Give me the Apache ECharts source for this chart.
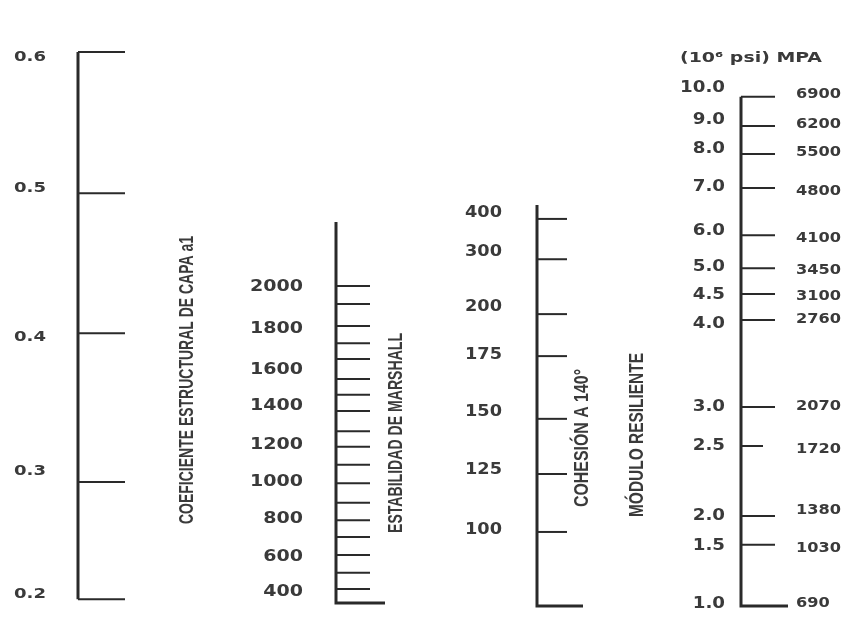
<!DOCTYPE html>
<html>
<head>
<meta charset="utf-8">
<script src="https://cdn.jsdelivr.net/npm/echarts@6/dist/echarts.min.js"></script>
<style>html,body{margin:0;padding:0;background:#fff}#c{width:860px;height:617px}</style>
</head>
<body>
<div id="c"></div>
<script>
// ---- DATA (heights along the nomograph: 0 = base line, 100 = top) ----
const coefLabels = ['0.6', '0.5', '0.4', '0.3', '0.2'];
const coefTickHeights = [99.1, 73.9, 48.9, 22.3, 1.4];
const coefLabelHeights = [98.2, 74.8, 48.2, 24.3, 2.3];
const coefExtent = [1.4, 99.1];

const marshallTickHeights = [57.3, 54.1, 50.2, 47.1, 44.3, 40.7, 37.9, 35.0, 31.4, 28.6, 25.4, 22.1, 18.6, 15.5, 12.5, 9.3, 6.1, 3.2];
const marshallLabels = ['2000', '1800', '1600', '1400', '1200', '1000', '800', '600', '400'];
const marshallLabelHeights = [57.1, 49.6, 42.3, 35.9, 28.9, 22.3, 15.7, 8.9, 2.7];
const marshallExtent = [0.7, 68.75];

const cohesionLabels = ['400', '300', '200', '175', '150', '125', '100'];
const cohesionTickHeights = [69.3, 62.1, 52.3, 44.8, 33.6, 23.75, 13.4];
const cohesionLabelHeights = [70.4, 63.4, 53.6, 45.0, 34.8, 24.5, 13.75];
const cohesionExtent = [0.2, 71.8];

const modulusPsiLabels = ['10.0', '9.0', '8.0', '7.0', '6.0', '5.0', '4.5', '4.0', '3.0', '2.5', '2.0', '1.5', '1.0'];
const modulusMPaLabels = ['6900', '6200', '5500', '4800', '4100', '3450', '3100', '2760', '2070', '1720', '1380', '1030', '690'];
const modulusTickHeights = [91.1, 85.9, 80.9, 74.8, 66.4, 60.5, 55.9, 51.25, 35.7, 28.75, 16.25, 11.1, 0.2];
const modulusPsiLabelHeights = [92.7, 87.0, 81.8, 75.0, 67.1, 60.7, 55.7, 50.5, 35.7, 28.75, 16.25, 10.9, 0.5];
const modulusMPaLabelHeights = [91.6, 86.1, 81.25, 74.3, 65.9, 60.2, 55.5, 51.4, 35.9, 28.2, 17.3, 10.5, 0.7];
const modulusExtent = [0.2, 91.1];

// ---- LAYOUT / STYLE ----
const LINE = '#2a2a2a';
const TEXT = '#3a3a3a';
const LABEL_FONT = '"DejaVu Sans", Verdana, sans-serif';
const TITLE_FONT = '"Liberation Sans", Arial, sans-serif';

const ctx = document.createElement('canvas').getContext('2d');
function measure(text, font) { ctx.font = font; return ctx.measureText(text).width; }

function fitScale(ref, size, weight, family, target) {
  return target / measure(ref, weight + ' ' + size + 'px ' + family);
}

const layout = {
  coef:     { x: 78,  tickLen: 47, base: 0 },
  marshall: { x: 336, tickLen: 34, base: 49 },
  cohesion: { x: 537, tickLen: 30, base: 46 },
  modulus:  { x: 741, tickLen: 34, base: 47, shortIndex: 9, shortLen: 22 }
};

const labelStyles = {
  coef:     { x: 14,  align: 'left',  size: 14, ref: '0.6',  width: 32 },
  marshall: { x: 303, align: 'right', size: 15, ref: '2000', width: 53 },
  cohesion: { x: 502, align: 'right', size: 15, ref: '400',  width: 37 },
  psi:      { x: 725, align: 'right', size: 15, ref: '10.0', width: 45 },
  mpa:      { x: 796, align: 'left',  size: 14, ref: '6900', width: 45 }
};
Object.values(labelStyles).forEach(s => { s.sx = fitScale(s.ref, s.size, 'bold', LABEL_FONT, s.width); });

function spineSeries(cfg, extent) {
  return {
    type: 'custom', silent: true, z: 3,
    data: [[cfg.x, extent[0], extent[1]]],
    encode: { x: 0, y: [1, 2] },
    renderItem: (params, api) => {
      const lo = api.coord([api.value(0), api.value(1)]);
      const hi = api.coord([api.value(0), api.value(2)]);
      const pts = cfg.base ? [[lo[0] + cfg.base, lo[1]], lo, hi] : [lo, hi];
      return { type: 'polyline', shape: { points: pts }, style: { stroke: LINE, lineWidth: 3, fill: null, lineJoin: 'miter' } };
    }
  };
}

function tickSeries(cfg, heights) {
  return {
    type: 'custom', silent: true, z: 2,
    data: heights.map(h => [cfg.x, h]),
    encode: { x: 0, y: 1 },
    renderItem: (params, api) => {
      const p = api.coord([api.value(0), api.value(1)]);
      const len = (cfg.shortIndex === params.dataIndex) ? cfg.shortLen : cfg.tickLen;
      return { type: 'line', shape: { x1: p[0], y1: p[1], x2: p[0] + len, y2: p[1] }, style: { stroke: LINE, lineWidth: 2 } };
    }
  };
}

function labelSeries(style, texts, heights) {
  return {
    type: 'custom', silent: true, z: 4,
    data: heights.map(h => [style.x, h]),
    encode: { x: 0, y: 1 },
    renderItem: (params, api) => {
      const p = api.coord([api.value(0), api.value(1)]);
      return {
        type: 'text', x: p[0], y: p[1], scaleX: style.sx, scaleY: 1,
        style: { text: texts[params.dataIndex], fontSize: style.size, fontWeight: 'bold', fontFamily: LABEL_FONT, fill: TEXT, align: style.align, verticalAlign: 'middle' }
      };
    }
  };
}

// vertical titles fitted to their measured length / thickness in the reference
const titles = [
  { text: 'COEFICIENTE ESTRUCTURAL DE CAPA a1', cx: 187, cy: 380, length: 288, cap: 15 },
  { text: 'ESTABILIDAD DE MARSHALL', cx: 396, cy: 433, length: 200, cap: 15 },
  { text: 'COHESIÓN A 140°', cx: 583, cy: 438, length: 138, cap: 14 },
  { text: 'MÓDULO RESILIENTE', cx: 638, cy: 435, length: 164, cap: 14 }
];
const TITLE_SIZE = 16;
const graphics = titles.map(t => {
  const w = measure(t.text, 'bold ' + TITLE_SIZE + 'px ' + TITLE_FONT);
  return {
    type: 'text', x: t.cx, y: t.cy, rotation: Math.PI / 2,
    scaleX: t.length / w, scaleY: t.cap / (0.716 * TITLE_SIZE),
    style: { text: t.text, fontSize: TITLE_SIZE, fontWeight: 'bold', fontFamily: TITLE_FONT, fill: TEXT, align: 'center', verticalAlign: 'middle' }
  };
});
const headerText = '(10⁶ psi) MPA';
const headerW = measure(headerText, 'bold 14px ' + LABEL_FONT);
graphics.push({
  type: 'text', x: 751, y: 58, scaleX: 142 / headerW,
  style: { text: headerText, fontSize: 14, fontWeight: 'bold', fontFamily: LABEL_FONT, fill: TEXT, align: 'center', verticalAlign: 'middle' }
});

const chart = echarts.init(document.getElementById('c'), null, { renderer: 'canvas' });
chart.setOption({
  backgroundColor: '#ffffff',
  animation: false,
  grid: { left: 0, right: 0, top: 47, bottom: 10 },
  xAxis: { type: 'value', min: 0, max: 860, show: false },
  yAxis: { type: 'value', min: 0, max: 100, show: false },
  graphic: graphics,
  series: [
    spineSeries(layout.coef, coefExtent),
    tickSeries(layout.coef, coefTickHeights),
    labelSeries(labelStyles.coef, coefLabels, coefLabelHeights),

    spineSeries(layout.marshall, marshallExtent),
    tickSeries(layout.marshall, marshallTickHeights),
    labelSeries(labelStyles.marshall, marshallLabels, marshallLabelHeights),

    spineSeries(layout.cohesion, cohesionExtent),
    tickSeries(layout.cohesion, cohesionTickHeights),
    labelSeries(labelStyles.cohesion, cohesionLabels, cohesionLabelHeights),

    spineSeries(layout.modulus, modulusExtent),
    tickSeries(layout.modulus, modulusTickHeights),
    labelSeries(labelStyles.psi, modulusPsiLabels, modulusPsiLabelHeights),
    labelSeries(labelStyles.mpa, modulusMPaLabels, modulusMPaLabelHeights)
  ]
});
</script>
</body>
</html>
